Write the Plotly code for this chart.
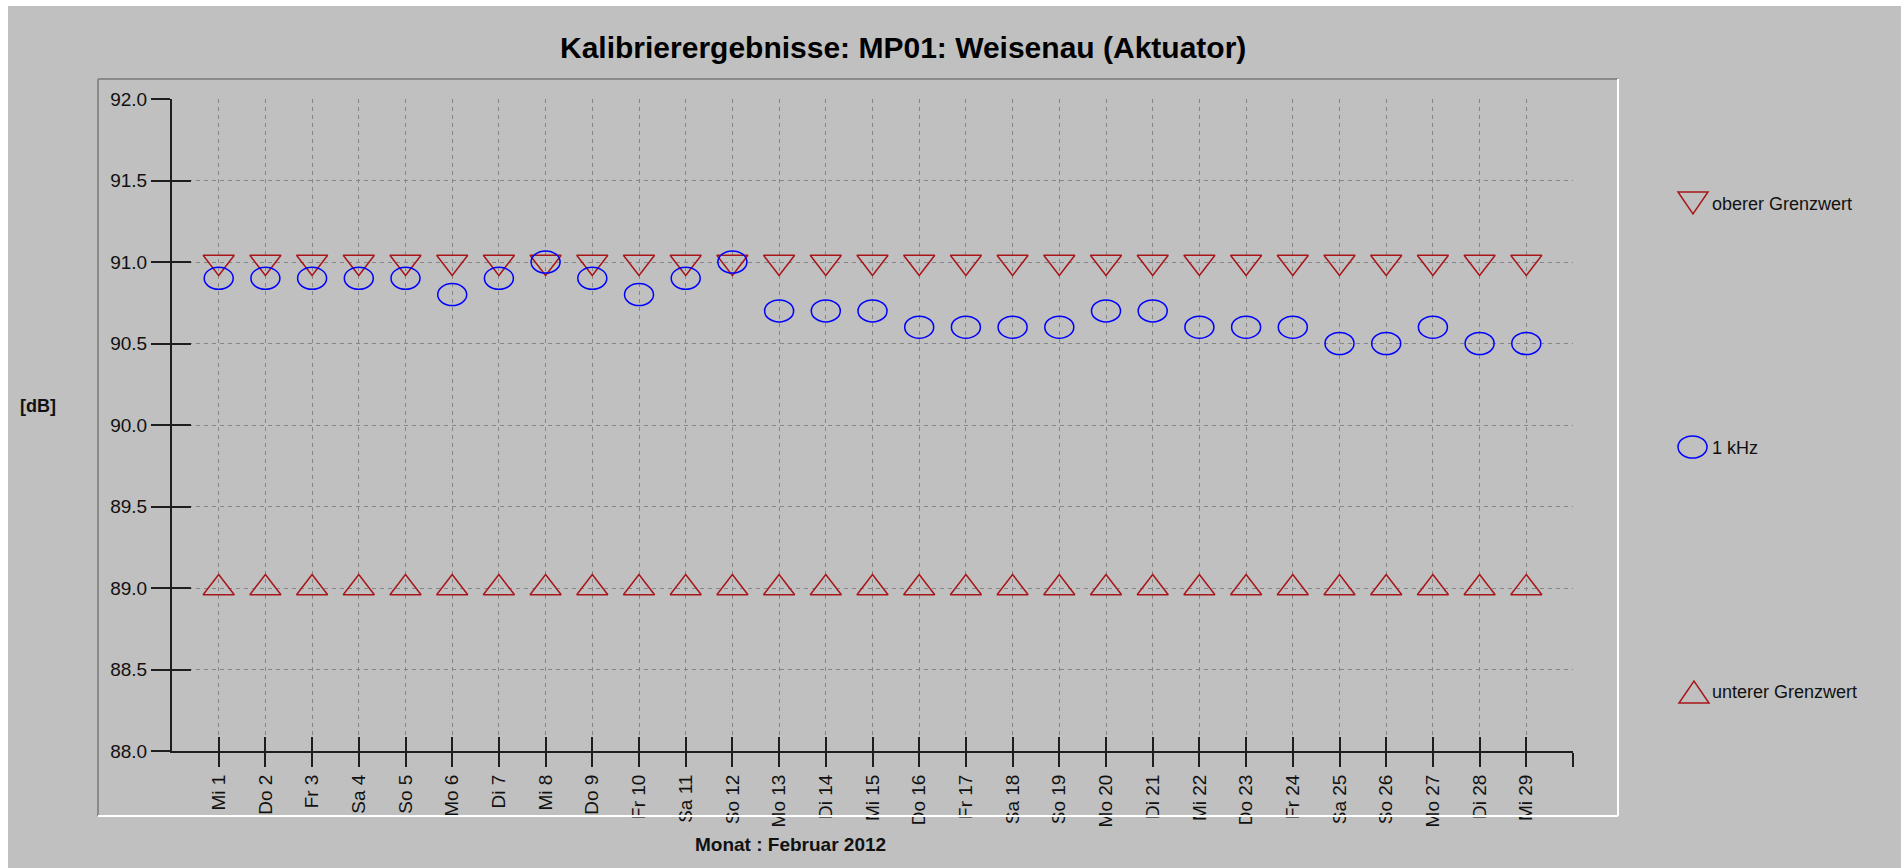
import plotly.graph_objects as go

# ---------------- data ----------------
days = list(range(1, 30))
day_labels = ["Mi 1", "Do 2", "Fr 3", "Sa 4", "So 5", "Mo 6", "Di 7", "Mi 8", "Do 9",
              "Fr 10", "Sa 11", "So 12", "Mo 13", "Di 14", "Mi 15", "Do 16", "Fr 17",
              "Sa 18", "So 19", "Mo 20", "Di 21", "Mi 22", "Do 23", "Fr 24", "Sa 25",
              "So 26", "Mo 27", "Di 28", "Mi 29"]
khz_1 = [90.9, 90.9, 90.9, 90.9, 90.9, 90.8, 90.9, 91.0, 90.9, 90.8, 90.9, 91.0,
         90.7, 90.7, 90.7, 90.6, 90.6, 90.6, 90.6, 90.7, 90.7, 90.6, 90.6, 90.6,
         90.5, 90.5, 90.6, 90.5, 90.5]
upper_limit = [91.0] * 29
lower_limit = [89.0] * 29
y_ticks = [88.0, 88.5, 89.0, 89.5, 90.0, 90.5, 91.0, 91.5, 92.0]

title_text = "Kalibrierergebnisse: MP01: Weisenau (Aktuator)"
x_title = "Monat : Februar 2012"
y_title = "[dB]"
legend_names = ["oberer Grenzwert", "1 kHz", "unterer Grenzwert"]

# ---------------- style ----------------
BG = "#c0c0c0"
RED = "#a8161a"
BLUE = "#0000ff"
AXIS = "#1e1e1e"
GRID = "#858585"
FONT = "Liberation Sans, Arial, sans-serif"

W, H = 1893, 862
ML, MR, MT, MB = 164, 328, 93, 117
PW, PH = W - ML - MR, H - MT - MB


def fx(px):
    return (px - ML) / PW


def fy(py):
    return (H - MB - py) / PH


fig = go.Figure()

fig.add_trace(go.Scatter(
    x=days, y=upper_limit, mode="markers", name=legend_names[0], showlegend=False,
    marker=dict(symbol="triangle-down-open", size=27, color=RED, line=dict(width=1.5, color=RED)),
))
fig.add_trace(go.Scatter(
    x=days, y=lower_limit, mode="markers", name=legend_names[2], showlegend=False,
    marker=dict(symbol="triangle-up-open", size=27, color=RED, line=dict(width=1.5, color=RED)),
))
# 1 kHz series (drawn as ellipses below, anchored to data values)
fig.add_trace(go.Scatter(
    x=days, y=khz_1, mode="markers", name=legend_names[1], showlegend=False,
    marker=dict(symbol="circle", size=26, opacity=0),
))
# helper trace for overlay tick axes (crossing ticks)
fig.add_trace(go.Scatter(x=[days[0]], y=[lower_limit[0]], xaxis="x2", yaxis="y2",
                         mode="markers", marker=dict(opacity=0), showlegend=False,
                         hoverinfo="skip"))

shapes = []
for d, v in zip(days, khz_1):
    shapes.append(dict(type="circle", xref="x", yref="y", xsizemode="pixel", ysizemode="pixel",
                       xanchor=d, yanchor=v, x0=-14.5, x1=14.5, y0=-11, y1=11,
                       line=dict(color=BLUE, width=1.5), layer="above"))

# inner frame (etched look)
fl, fr, ft, fb = 90, 1610, 73, 810
shapes += [
    dict(type="line", xref="paper", yref="paper", x0=fx(fl), x1=fx(fr), y0=fy(ft), y1=fy(ft),
         line=dict(color="#8a8a8a", width=2)),
    dict(type="line", xref="paper", yref="paper", x0=fx(fl), x1=fx(fl), y0=fy(ft), y1=fy(fb),
         line=dict(color="#8a8a8a", width=2)),
    dict(type="line", xref="paper", yref="paper", x0=fx(fr), x1=fx(fr), y0=fy(ft), y1=fy(fb),
         line=dict(color="#ffffff", width=2)),
    dict(type="line", xref="paper", yref="paper", x0=fx(fl), x1=fx(fr), y0=fy(fb), y1=fy(fb),
         line=dict(color="#ffffff", width=2)),
]

# legend symbols
def path(points):
    s = "M " + " L ".join(f"{fx(a):.5f},{fy(b):.5f}" for a, b in points) + " Z"
    return s

shapes.append(dict(type="path", xref="paper", yref="paper",
                   path=path([(1670, 186), (1700, 186), (1685, 208)]),
                   line=dict(color=RED, width=1.5)))
shapes.append(dict(type="circle", xref="paper", yref="paper",
                   x0=fx(1670), x1=fx(1699), y0=fy(452), y1=fy(430),
                   line=dict(color=BLUE, width=1.5)))
shapes.append(dict(type="path", xref="paper", yref="paper",
                   path=path([(1671, 697), (1701, 697), (1686, 675)]),
                   line=dict(color=RED, width=1.5)))

annotations = [
    dict(text="<b>" + title_text + "</b>", xref="paper", yref="paper", x=fx(895), y=fy(42),
         xanchor="center", yanchor="middle", showarrow=False,
         font=dict(family=FONT, size=30, color="#000000")),
    dict(text="<b>" + y_title + "</b>", xref="paper", yref="paper", x=fx(30), y=fy(400),
         xanchor="center", yanchor="middle", showarrow=False,
         font=dict(family=FONT, size=18, color="#111111")),
    dict(text="<b>" + x_title + "</b>", xref="paper", yref="paper", x=fx(782), y=fy(838),
         xanchor="center", yanchor="middle", showarrow=False,
         font=dict(family=FONT, size=19, color="#111111")),
]
for name, yc in zip(legend_names, [198, 442, 686]):
    annotations.append(dict(text=name, xref="paper", yref="paper", x=fx(1702), y=fy(yc),
                            xanchor="left", yanchor="middle", showarrow=False,
                            font=dict(family=FONT, size=18, color="#111111")))

tickvals_x = days + [30]
ticktext_x = day_labels + [""]

fig.update_layout(
    width=W, height=H,
    margin=dict(l=ML, r=MR, t=MT, b=MB, pad=0),
    paper_bgcolor=BG, plot_bgcolor=BG,
    showlegend=False,
    font=dict(family=FONT, color="#111111"),
    shapes=shapes,
    annotations=annotations,
    xaxis=dict(range=[0, 30], tickmode="array", tickvals=tickvals_x, ticktext=ticktext_x,
               tickangle=-90, ticks="outside", ticklen=14, tickwidth=2, tickcolor=AXIS,
               showline=True, linecolor=AXIS, linewidth=2, showgrid=True, gridcolor=GRID,
               griddash="4px,4px", gridwidth=1, zeroline=False,
               tickfont=dict(family=FONT, size=19, color="#111111")),
    yaxis=dict(range=[88, 92], tickmode="array", tickvals=y_ticks,
               ticktext=[f"{t:.1f}" for t in y_ticks],
               ticks="outside", ticklen=19, tickwidth=2, tickcolor=AXIS,
               showline=True, linecolor=AXIS, linewidth=2, showgrid=True, gridcolor=GRID,
               griddash="4px,4px", gridwidth=1, zeroline=False,
               tickfont=dict(family=FONT, size=19, color="#111111")),
    xaxis2=dict(range=[0, 30], overlaying="x", anchor="y2", side="bottom", tickmode="array",
                tickvals=tickvals_x, showticklabels=False, ticks="inside", ticklen=14,
                tickwidth=2, tickcolor=AXIS, showgrid=False, showline=False, zeroline=False),
    yaxis2=dict(range=[88, 92], overlaying="y", anchor="x2", side="left", tickmode="array",
                tickvals=y_ticks, showticklabels=False, ticks="inside", ticklen=19,
                tickwidth=2, tickcolor=AXIS, showgrid=False, showline=False, zeroline=False),
)

fig.write_html(
    "out.html",
    config={"displayModeBar": False},
    post_script="document.body.style.margin='6px 0 0 8px';document.documentElement.style.overflow='hidden';document.body.style.overflow='hidden';",
)
